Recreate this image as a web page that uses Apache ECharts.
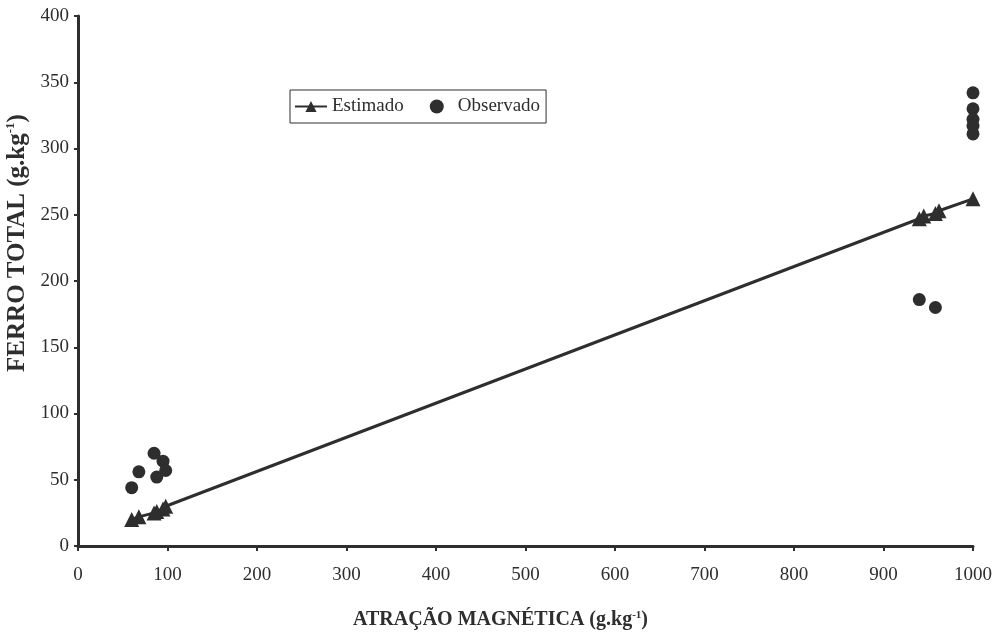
<!DOCTYPE html>
<html>
<head>
<meta charset="utf-8">
<script src="https://cdn.jsdelivr.net/npm/echarts@6/dist/echarts.min.js"></script>
<style>
  html, body { margin: 0; padding: 0; background: #fff; }
  #chart { width: 1004px; height: 637px; }
</style>
</head>
<body>
<div id="chart"></div>
<script>
// atração magnética (x) vs ferro total (y)
const estX = [60, 68, 85, 88, 95, 98, 940, 945, 958, 962, 1000]
const estY = [20, 22, 25, 26, 28, 30, 247, 249, 251, 253, 262]
const obsX = [60, 68, 85, 88, 95, 98, 940, 958, 1000, 1000, 1000, 1000, 1000]
const obsY = [44, 56, 70, 52, 64, 57, 186, 180, 342, 330, 322, 317, 311]
const xTicks = { min: 0, max: 1000, interval: 100 }
const yTicks = { min: 0, max: 400, interval: 50 }

const ink = '#2e2e2e'
const font = 'Liberation Serif'

const chart = echarts.init(document.getElementById('chart'))
chart.setOption({
  backgroundColor: '#fff',
  animation: false,
  textStyle: { fontFamily: font, color: ink },
  grid: { left: 78, right: 31, top: 16, bottom: 91, outerBoundsMode: 'none', containLabel: false },
  legend: {
    left: 290, top: 90,
    itemWidth: 32, itemHeight: 14, itemGap: 26,
    padding: [7, 6, 7, 4],
    borderColor: ink, borderWidth: 1,
    textStyle: { fontFamily: font, fontSize: 19, color: ink },
    data: [
      { name: 'Estimado' },
      { name: 'Observado', icon: 'circle', itemStyle: { color: ink, opacity: 1 } }
    ]
  },
  xAxis: {
    type: 'value',
    min: xTicks.min, max: xTicks.max, interval: xTicks.interval,
    name: 'ATRAÇÃO MAGNÉTICA (g.kg{sup|-1})',
    nameLocation: 'middle', nameGap: 64,
    nameTextStyle: {
      fontFamily: font, fontSize: 20, fontWeight: 'bold', color: ink,
      padding: [0, 50, 0, 0],
      rich: { sup: { fontSize: 11, fontWeight: 'bold', verticalAlign: 'top', padding: [0, 0, 9, 0] } }
    },
    axisLine: { lineStyle: { color: ink, width: 3 } },
    axisTick: { lineStyle: { color: ink, width: 2 }, length: 5 },
    axisLabel: { fontFamily: font, fontSize: 19, color: ink, margin: 20, formatter: v => String(v) },
    splitLine: { show: false }
  },
  yAxis: {
    type: 'value',
    min: yTicks.min, max: yTicks.max, interval: yTicks.interval,
    name: 'FERRO TOTAL (g.kg{sup|-1})',
    nameLocation: 'middle', nameGap: 46,
    nameTextStyle: {
      fontFamily: font, fontSize: 25, fontWeight: 'bold', color: ink,
      padding: [0, 0, 0, 76],
      rich: { sup: { fontSize: 13, fontWeight: 'bold', verticalAlign: 'top', padding: [0, 0, 11, 0] } }
    },
    axisLine: { show: true, lineStyle: { color: ink, width: 3 } },
    axisTick: { show: true, lineStyle: { color: ink, width: 2 }, length: 4 },
    axisLabel: { fontFamily: font, fontSize: 19, color: ink, margin: 9 },
    splitLine: { show: false }
  },
  series: [
    {
      name: 'Estimado', type: 'line',
      symbol: 'triangle', symbolSize: 15,
      lineStyle: { color: ink, width: 3 },
      itemStyle: { color: ink },
      data: estX.map((x, i) => [x, estY[i]]),
      z: 3
    },
    {
      name: 'Observado', type: 'scatter',
      symbol: 'circle', symbolSize: 13,
      itemStyle: { color: ink, opacity: 1 },
      data: obsX.map((x, i) => [x, obsY[i]]),
      z: 4
    }
  ]
})
window.addEventListener('resize', () => chart.resize())
</script>
</body>
</html>
